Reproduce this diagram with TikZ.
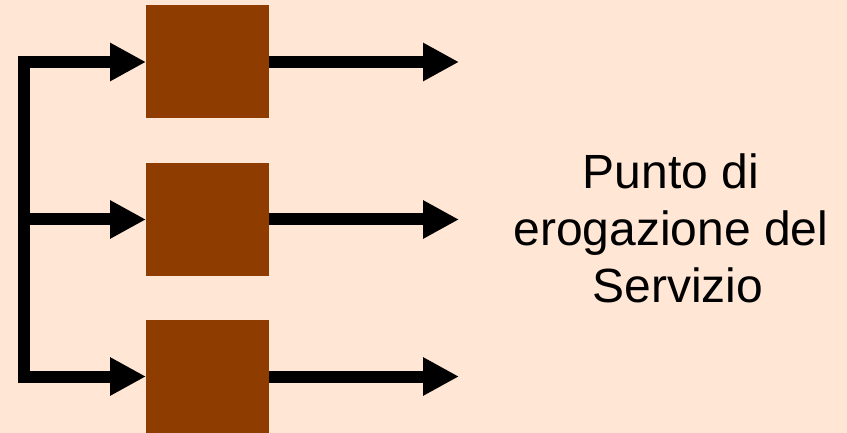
\documentclass[tikz,border=0pt]{standalone}
\usepackage{fontspec}
\setmainfont{Liberation Sans}
\usetikzlibrary{arrows.meta}
\definecolor{bgpeach}{HTML}{FFE6D5}
\definecolor{boxbrown}{HTML}{8E3C00}
\begin{document}
\begin{tikzpicture}[x=1pt,y=-1pt,
  stage/.style={rectangle, fill=boxbrown, draw=none, minimum width=123pt, minimum height=113pt, inner sep=0pt, outer sep=0pt},
  conn/.style={line width=12pt, black, line join=miter},
  tip/.style={-{Triangle[length=36pt,width=36pt]}},
  lbl/.style={font=\fontsize{48pt}{57pt}\selectfont, align=center, text=black}
]
\fill[bgpeach] (0,0) rectangle (847,433);
\useasboundingbox (0,0) rectangle (847,433);
\node[stage] (b1) at (207.5,62) {};
\node[stage] (b2) at (207.5,219.5) {};
\node[stage] (b3) at (207.5,376.5) {};
\coordinate (t1) at (24,62);
\coordinate (t2) at (24,219.5);
\coordinate (t3) at (24,376.5);
\coordinate (o1) at (459,62);
\coordinate (o2) at (459,219.5);
\coordinate (o3) at (459,376.5);
\draw[conn, {Triangle[length=36pt,width=36pt]}-{Triangle[length=36pt,width=36pt]}] (b1.west) -- (t1) -- (t3) -- (b3.west);
\draw[conn, tip] (t2) -- (b2.west);
\draw[conn, tip] (b1.east) -- (o1);
\draw[conn, tip] (b2.east) -- (o2);
\draw[conn, tip] (b3.east) -- (o3);
\node[lbl] (txt) at (671,228) {Punto di\\erogazione del\\\hspace*{0.278em}Servizio};
\end{tikzpicture}
\end{document}
